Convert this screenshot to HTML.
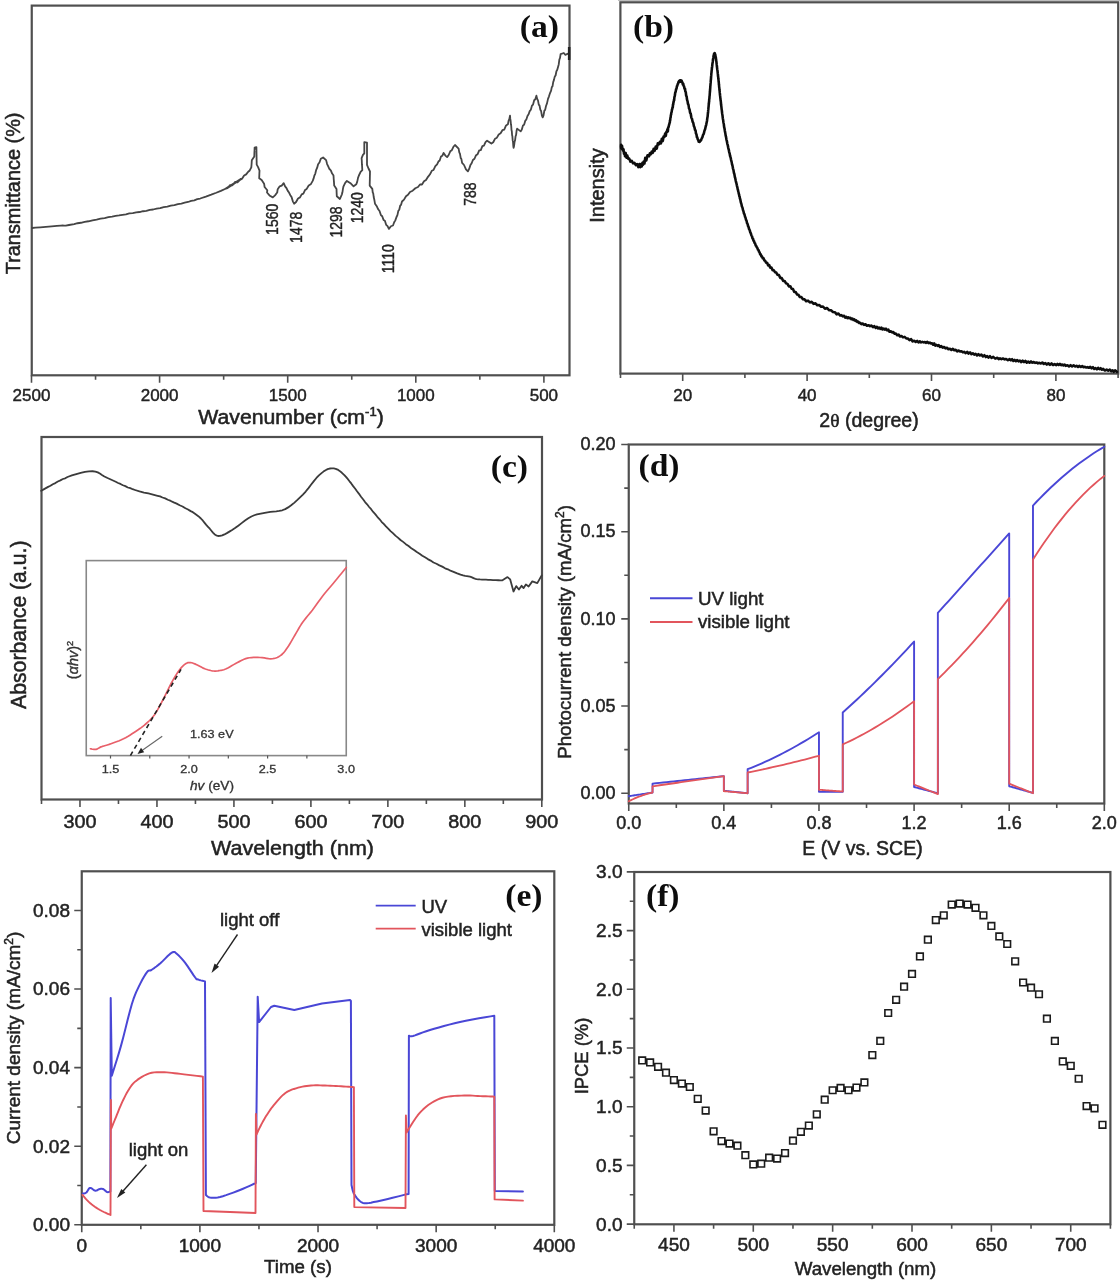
<!DOCTYPE html>
<html><head><meta charset="utf-8"><style>html,body{margin:0;padding:0;background:#fff;width:1120px;height:1280px;overflow:hidden}svg{display:block}</style></head><body>
<svg width="1120" height="1280" viewBox="0 0 1120 1280">
<rect width="1120" height="1280" fill="#ffffff"/>
<defs><filter id="soft" x="0" y="0" width="1120" height="1280" filterUnits="userSpaceOnUse"><feGaussianBlur stdDeviation="0.55"/></filter></defs>
<g filter="url(#soft)">
<path d="M618 0.5 H1120" stroke="#bdbdbd" stroke-width="1.2"/>
<rect x="31.75" y="5.6" width="537.75" height="369.7" fill="none" stroke="#505050" stroke-width="2.2"/>
<path d="M31.5 375.3 V382.8 M159.6 375.3 V382.8 M287.7 375.3 V382.8 M415.8 375.3 V382.8 M543.9 375.3 V382.8" stroke="#505050" stroke-width="1.6" fill="none"/>
<path d="M95.55 375.3 V379.8 M223.65 375.3 V379.8 M351.75 375.3 V379.8 M479.85 375.3 V379.8" stroke="#505050" stroke-width="1.6" fill="none"/>
<text x="31.5" y="401" font-family='"Liberation Sans", sans-serif' font-size="17" font-weight="normal" font-style="normal" fill="#222222" text-anchor="middle"  stroke="#222222" stroke-width="0.44">2500</text>
<text x="159.6" y="401" font-family='"Liberation Sans", sans-serif' font-size="17" font-weight="normal" font-style="normal" fill="#222222" text-anchor="middle"  stroke="#222222" stroke-width="0.44">2000</text>
<text x="287.7" y="401" font-family='"Liberation Sans", sans-serif' font-size="17" font-weight="normal" font-style="normal" fill="#222222" text-anchor="middle"  stroke="#222222" stroke-width="0.44">1500</text>
<text x="415.8" y="401" font-family='"Liberation Sans", sans-serif' font-size="17" font-weight="normal" font-style="normal" fill="#222222" text-anchor="middle"  stroke="#222222" stroke-width="0.44">1000</text>
<text x="543.9" y="401" font-family='"Liberation Sans", sans-serif' font-size="17" font-weight="normal" font-style="normal" fill="#222222" text-anchor="middle"  stroke="#222222" stroke-width="0.44">500</text>
<text x="0" y="0" font-family='"Liberation Sans", sans-serif' font-size="19.5" font-weight="normal" font-style="normal" fill="#222222" text-anchor="middle" transform="translate(291 424) scale(1.09 1)"  stroke="#222222" stroke-width="0.5">Wavenumber (cm<tspan dy="-8" font-size="12">-1</tspan><tspan dy="8">)</tspan></text>
<text x="0" y="0" font-family='"Liberation Sans", sans-serif' font-size="19.9" font-weight="normal" font-style="normal" fill="#222222" text-anchor="middle" transform="translate(20 193.4) rotate(-90)"  stroke="#222222" stroke-width="0.5">Transmittance (%)</text>
<text x="0" y="0" font-family='"Liberation Serif", serif' font-size="32" font-weight="bold" font-style="normal" fill="#111" text-anchor="end" transform="translate(559 37) scale(1.05 1)" >(a)</text>
<path d="M32 228 L35.37 227.72 L40.23 227.31 L45.89 226.84 L51.66 226.36 L56.86 225.92 L60.8 225.6 L62.95 225.48 L63.77 225.55 L64.01 225.67 L64.44 225.7 L65.85 225.52 L69 225 L74.19 224.05 L77.52 223.24 L80.86 222.76 L84.67 221.77 L88.49 221.26 L92.54 220.27 L96.59 219.67 L100.61 218.64 L104.63 218.11 L108.36 217.15 L112.1 216.7 L115.58 215.96 L119.07 215.46 L122.51 214.77 L125.95 214.29 L129.36 213.41 L132.77 213.16 L136.17 212.41 L139.57 212.01 L142.97 211.24 L146.37 210.8 L149.79 209.8 L153.2 209.5 L156.69 208.58 L160.17 208.11 L163.73 207.07 L167.29 206.66 L170.84 205.69 L174.4 205.16 L177.89 204.11 L181.37 203.6 L184.71 202.65 L188.05 201.98 L191.18 200.88 L194.3 200.3 L197.25 199.09 L200.19 198.52 L205.86 196.64 L211.24 194.71 L216.26 192.76 L220.87 190.84 L225 189 L228.67 187.13 L231.93 185.17 L234.77 183.24 L237.19 181.47 L239.17 179.98 L240.7 178.9 L225 189 L227.5 188.22 L230 185.15 L232.5 185.31 L235 181.97 L237.5 182.23 L240 179.9 L242.05 178.8 L244.1 175.48 L246.15 174.38 L248.2 171.7 L249.75 170.46 L251.3 167.3 L251.55 164.5 L251.8 160.2 L254.3 156.4 L254.4 152.57 L254.5 150.98 L254.6 147.7 L256.4 147.1 L256.45 149.39 L256.5 153.41 L256.55 155.17 L256.6 159.47 L256.65 161.37 L256.7 164.6 L258.1 167.15 L259.5 170.6 L259.35 173.95 L259.2 178.3 L261.65 180.06 L264.1 183.7 L264.6 187 L267.3 190.3 L267 192.5 L269.9 195.79 L272.8 197.4 L275 195.36 L277.2 192.5 L277.7 189.2 L279.7 186.34 L281.7 185.6 L283.7 183.2 L285.1 186.38 L286.5 188.1 L287.77 190.86 L289.03 192.53 L290.3 195.2 L291.57 197.12 L292.83 201.31 L294.1 203.7 L296.07 202.05 L298.03 198.51 L300 197.4 L301.68 194.36 L303.35 193.65 L305.02 190.05 L306.7 188.9 L308.7 185.56 L310.7 184.34 L312.7 180.9 L313.55 178.64 L314.4 175.5 L315.25 173.81 L316.1 170.2 L317.1 167.98 L318.1 164.2 L319.45 162.48 L320.8 158.8 L323.1 157.5 L326.1 160.1 L327.1 164.08 L328.1 166.2 L329.45 169.03 L330.8 170.3 L332.15 173.59 L333.5 175.5 L333.73 179.27 L333.97 181.89 L334.2 185.6 L336.5 188.9 L336.65 193.11 L336.8 196.3 L339.9 199 L341.9 194.3 L342.43 192.36 L342.97 188.66 L343.5 186.3 L345.2 182.83 L346.9 180.9 L350.9 183.6 L353.6 186.3 L356.3 184.3 L357.17 181.9 L358.03 177.92 L358.9 175.5 L360.6 171.98 L362.3 170.2 L362.12 166.54 L361.95 164.67 L361.78 160.49 L361.6 158.1 L362.95 154.96 L364.3 153.4 L364.3 150.24 L364.3 148.73 L364.3 144.61 L364.3 142.1 L367 142.7 L367 146.29 L367 147.33 L367 151.3 L367 152.9 L367 157.07 L367 158.57 L367 162.34 L367 164.8 L368.5 168.48 L370 171.5 L369.94 174.75 L369.88 176.17 L369.82 180.4 L369.76 181.95 L369.7 185.6 L372.3 188.9 L372.77 192.55 L373.23 193.34 L373.7 197 L374.35 199.81 L375 203.7 L376.6 205.95 L378.2 209.3 L379.54 211.08 L380.88 215.04 L382.21 216.27 L383.55 219.92 L384.89 220.69 L386.22 224.9 L387.56 226.12 L388.9 228.9 L390.95 226.24 L393 225.5 L394.17 222.3 L395.33 220.37 L396.5 217 L397.42 215.14 L398.33 210.89 L399.25 209.79 L400.17 205.72 L401.08 204.76 L402 201.5 L404 199.64 L406 196.23 L408 194.8 L410 192 L412.67 190.69 L415.33 188.26 L418 187 L420 184.47 L422 184.5 L424 181.34 L426 180 L428 176.82 L430 174.3 L431.77 170.81 L433.55 169.97 L435.33 166.22 L437.1 164.3 L438.4 161.55 L439.7 160.46 L441 156.58 L442.3 155.8 L443.6 152.9 L445.35 155.6 L447.1 157.1 L448.68 155.02 L450.26 151.32 L451.84 150.16 L453.42 146.77 L455 145 L458.6 148.6 L459.3 152.35 L460 153.93 L460.7 157.99 L461.4 159.08 L462.1 162.9 L464.03 164.99 L465.97 169.42 L467.9 171.4 L469.15 168.92 L470.4 165.1 L471.65 163.25 L472.9 160 L474.48 158.75 L476.06 155.2 L477.63 154.18 L479.21 150.42 L480.79 150.17 L482.37 146.15 L483.94 145.61 L485.52 142.2 L487.1 140.7 L491.4 143.6 L493.23 142.27 L495.07 138.68 L496.9 137.67 L498.73 134.44 L500.57 133.28 L502.4 130.17 L504.23 129.58 L506.07 125.47 L507.9 124.3 L508.6 120.69 L509.3 119.22 L510 115.7 L510.3 118.92 L510.6 120.7 L510.9 124.24 L511.2 125.59 L511.5 130.02 L511.8 131.25 L512.1 135.33 L512.4 136.32 L512.7 140.64 L513 141.77 L513.3 146.05 L513.6 147.9 L514.1 145.7 L514.6 141.59 L515.1 140.13 L515.6 136.23 L516.1 134.95 L516.6 130.57 L517.1 128.6 L520.7 131.4 L521.83 129.46 L522.96 125.55 L524.09 124.83 L525.21 120.92 L526.34 119.49 L527.47 116.06 L528.6 114.3 L529.71 111.17 L530.83 109.76 L531.94 105.7 L533.06 104.54 L534.17 100.26 L535.29 99.22 L536.4 95.7 L537.19 98.96 L537.98 100.37 L538.76 104.65 L539.55 105.67 L540.34 109.81 L541.12 111.08 L541.91 115.6 L542.7 117.4 L543.53 115.33 L544.35 110.72 L545.17 109.82 L546 106 L547 103.43 L548 98.86 L549 96.3 L550.05 93.03 L551.1 90.6 L551.8 87.09 L552.5 86.31 L553.2 82.09 L553.9 80.1 L554.74 76.64 L555.58 75.54 L556.42 71.25 L557.26 69.8 L558.1 66.7 L558.73 64.4 L559.35 59.69 L559.98 58.02 L560.6 54.1 L563.8 53 L565.2 54.8 L568.7 53.4" fill="none" stroke="#444" stroke-width="1.8" stroke-linejoin="round" stroke-linecap="round" />
<path d="M569.2 47 V60" stroke="#222" stroke-width="2.6"/>
<text transform="translate(278.1 234.9) rotate(-90) scale(1 1.18)" x="0" y="0" font-family='"Liberation Sans", sans-serif' font-size="14" fill="#222222" stroke="#222222" stroke-width="0.35">1560</text>
<text transform="translate(302.2 242.9) rotate(-90) scale(1 1.18)" x="0" y="0" font-family='"Liberation Sans", sans-serif' font-size="14" fill="#222222" stroke="#222222" stroke-width="0.35">1478</text>
<text transform="translate(342.3 237.5) rotate(-90) scale(1 1.18)" x="0" y="0" font-family='"Liberation Sans", sans-serif' font-size="14" fill="#222222" stroke="#222222" stroke-width="0.35">1298</text>
<text transform="translate(362.9 223.3) rotate(-90) scale(1 1.18)" x="0" y="0" font-family='"Liberation Sans", sans-serif' font-size="14" fill="#222222" stroke="#222222" stroke-width="0.35">1240</text>
<text transform="translate(394.1 273.3) rotate(-90) scale(1 1.18)" x="0" y="0" font-family='"Liberation Sans", sans-serif' font-size="14" fill="#222222" stroke="#222222" stroke-width="0.35">1110</text>
<text transform="translate(475.9 205.8) rotate(-90) scale(1 1.18)" x="0" y="0" font-family='"Liberation Sans", sans-serif' font-size="14" fill="#222222" stroke="#222222" stroke-width="0.35">788</text>
<rect x="620.4" y="2.3" width="497.8" height="371.3" fill="none" stroke="#505050" stroke-width="2.2"/>
<path d="M682.7 373.6 V381.1 M807.1 373.6 V381.1 M931.5 373.6 V381.1 M1055.9 373.6 V381.1" stroke="#505050" stroke-width="1.6" fill="none"/>
<path d="M620.5 373.6 V378.1 M744.9 373.6 V378.1 M869.3 373.6 V378.1 M993.7 373.6 V378.1 M1118.1 373.6 V378.1" stroke="#505050" stroke-width="1.6" fill="none"/>
<text x="682.7" y="401" font-family='"Liberation Sans", sans-serif' font-size="17" font-weight="normal" font-style="normal" fill="#222222" text-anchor="middle"  stroke="#222222" stroke-width="0.44">20</text>
<text x="807.1" y="401" font-family='"Liberation Sans", sans-serif' font-size="17" font-weight="normal" font-style="normal" fill="#222222" text-anchor="middle"  stroke="#222222" stroke-width="0.44">40</text>
<text x="931.5" y="401" font-family='"Liberation Sans", sans-serif' font-size="17" font-weight="normal" font-style="normal" fill="#222222" text-anchor="middle"  stroke="#222222" stroke-width="0.44">60</text>
<text x="1055.9" y="401" font-family='"Liberation Sans", sans-serif' font-size="17" font-weight="normal" font-style="normal" fill="#222222" text-anchor="middle"  stroke="#222222" stroke-width="0.44">80</text>
<text x="869" y="426.5" font-family='"Liberation Sans", sans-serif' font-size="19.5" font-weight="normal" font-style="normal" fill="#222222" text-anchor="middle"  stroke="#222222" stroke-width="0.5">2<tspan font-family='"Liberation Serif", serif'>&#952;</tspan> (degree)</text>
<text x="0" y="0" font-family='"Liberation Sans", sans-serif' font-size="20" font-weight="normal" font-style="normal" fill="#222222" text-anchor="middle" transform="translate(604 185.5) rotate(-90)"  stroke="#222222" stroke-width="0.5">Intensity</text>
<text x="0" y="0" font-family='"Liberation Serif", serif' font-size="32" font-weight="bold" font-style="normal" fill="#111" text-anchor="start" transform="translate(633 37) scale(1.05 1)" >(b)</text>
<path d="M621 146 L621.05 147.32 L621.09 144.73 L621.12 148.3 L621.17 145.06 L621.23 147.77 L621.32 145.13 L621.44 147.59 L621.61 145.78 L621.82 149.06 L622.1 146.16 L622.42 149.22 L622.75 148.38 L623.11 150.79 L623.51 149.23 L623.96 153.72 L624.46 152.55 L625.02 156.25 L625.66 152.95 L626.38 157.66 L627.2 155.48 L628.15 158.7 L629.25 158.62 L630.47 161.64 L631.77 160.92 L633.11 163.4 L634.47 162.83 L635.82 165.12 L637.11 164.1 L638.31 167.04 L639.4 164.08 L640.33 167.25 L641.12 164.01 L641.81 166.38 L642.45 162.76 L643.07 164.74 L643.72 161.54 L644.45 163.49 L645.29 157.79 L646.3 160.47 L647.5 155.31 L648.97 156.27 L649.84 153.45 L650.7 154.26 L651.66 151.67 L652.62 152.95 L653.64 148.86 L654.67 150.79 L655.72 146.53 L656.77 148.56 L657.82 143.26 L658.86 144.38 L659.87 141.87 L660.88 143.46 L661.81 138.88 L662.75 141.05 L663.58 136.51 L664.41 136.97 L665.11 133.65 L665.8 135.81 L666.36 131.9 L666.92 132.22 L667.38 129.41 L667.84 131.37 L668.22 127.21 L668.6 127.1 L668.92 125.2 L669.23 124.66 L669.5 122.91 L669.76 122.78 L669.99 120.38 L670.22 120.15 L670.43 117.74 L670.65 117.44 L670.85 115.1 L671.06 114.99 L671.28 112.79 L671.5 112.62 L672 109.46 L672.26 109.2 L672.52 107.24 L672.77 107.42 L673.02 104.39 L673.26 104.45 L673.49 101.88 L673.72 101.93 L673.95 99.83 L674.17 100.03 L674.39 97.24 L674.82 95.92 L675.25 92.46 L675.67 91.79 L676.08 89.18 L676.5 88.82 L676.91 86.15 L677.32 85.82 L677.71 84.04 L678.09 83.64 L678.47 81.91 L678.85 82.33 L679.23 80.75 L679.62 81.58 L680 80.31 L680.4 81.77 L680.8 80.29 L681.2 81.77 L681.6 80.61 L682.01 82.38 L682.41 82.38 L682.82 84.43 L683.23 83.59 L683.65 85.91 L684.07 86.34 L684.5 88.79 L684.93 88.52 L685.35 91.52 L685.77 92.05 L686.2 95.92 L686.63 96.43 L687.07 99.82 L687.53 101.21 L688 103.94 L688.49 104.92 L689 108.39 L689.55 109.36 L690.12 112.74 L690.73 113.75 L691.35 117.58 L691.99 118.76 L692.62 121.78 L693.25 122.84 L693.86 125.95 L694.45 127.25 L695 130.05 L695.51 130.23 L695.99 133.57 L696.45 134.2 L696.89 137.23 L697.32 137.47 L697.75 139.4 L698.2 139.87 L698.67 141.63 L699.16 141.25 L699.7 141.84 L700.29 140.77 L700.94 140.43 L701.63 138.64 L702.34 137.43 L703.06 134.87 L703.77 133.78 L704.46 130.78 L705.1 129.33 L705.69 126.45 L706.2 124.86 L706.64 122.55 L707.01 120.68 L707.34 117.97 L707.62 116.61 L707.88 113.46 L708.12 111.7 L708.24 110.01 L708.35 109.44 L708.47 107.48 L708.58 106.83 L708.71 104.78 L708.83 104.09 L708.97 102.26 L709.1 101.59 L709.24 99.25 L709.38 98.61 L709.53 96.2 L709.67 95.37 L709.81 92.75 L709.95 91.72 L710.09 89.31 L710.23 88.36 L710.32 86.24 L710.41 85.74 L710.51 83.85 L710.65 82.92 L710.78 80.36 L710.92 79.3 L711.06 76.97 L711.2 75.93 L711.34 73.63 L711.48 72.62 L711.62 70.65 L711.76 70.2 L711.9 67.95 L712.18 66.42 L712.46 63.48 L712.74 61.95 L713.02 59.21 L713.3 58.01 L713.58 55.75 L713.86 55.06 L714.14 53.62 L714.42 53.6 L714.7 53.06 L714.98 54.11 L715.26 54.53 L715.54 56.44 L715.82 57.45 L716.1 60.06 L716.38 61.43 L716.66 64.4 L716.94 66.47 L717.22 69.15 L717.5 70.83 L717.78 73.68 L717.92 74.57 L718.06 76.44 L718.2 76.92 L718.34 78.86 L718.48 79.48 L718.62 81.52 L718.76 82.31 L718.9 84.24 L719.04 85.18 L719.18 87.27 L719.32 87.77 L719.46 90.07 L719.6 90.73 L719.74 92.68 L719.88 93.44 L720.02 95.14 L720.16 95.94 L720.3 97.93 L720.44 98.26 L720.58 100.29 L720.84 101.78 L721.11 104.77 L721.37 106.65 L721.64 109.33 L721.91 111.04 L722.19 113.63 L722.48 115.36 L722.78 118.16 L723.1 119.7 L723.44 122.42 L723.78 123.94 L724.14 127.05 L724.5 128.44 L724.88 131 L725.27 132.91 L725.66 135.6 L726.07 137.16 L726.48 139.78 L726.9 141.17 L727.33 143.81 L727.78 145.24 L728.24 147.82 L728.72 149.59 L729.19 152.06 L729.68 153.7 L730.16 156.28 L730.65 157.69 L731.13 160.09 L731.6 161.88 L732.07 164.42 L732.53 165.86 L732.98 168.55 L733.44 169.91 L733.89 172.77 L734.36 173.95 L734.82 176.91 L735.3 178.48 L735.79 181.11 L736.3 182.83 L736.83 185.35 L737.37 187.29 L737.65 189.15 L737.93 189.79 L738.21 191.37 L738.5 192.13 L738.79 193.95 L739.07 194.47 L739.36 196.32 L739.65 196.77 L739.94 198.6 L740.23 199.1 L740.8 202.25 L741.36 203.82 L741.9 206.47 L742.43 207.53 L742.95 209.88 L743.45 211.18 L743.96 213.47 L744.46 214.25 L744.96 216.53 L745.46 217.5 L745.96 219.82 L746.48 220.5 L747 222.98 L747.53 223.82 L748.08 226.09 L748.62 227.17 L749.18 229.36 L749.73 230.15 L750.29 232.51 L750.84 233.3 L751.4 235.37 L751.95 236.16 L752.5 238.49 L753.04 238.81 L753.57 240.85 L754.1 241.3 L754.62 243.08 L755.14 243.49 L755.67 245.47 L756.21 245.85 L756.76 247.28 L757.32 247.94 L757.9 249.62 L758.48 249.98 L759.05 251.76 L759.61 252.41 L760.18 254.33 L760.77 254.39 L761.38 256.43 L762.03 256.42 L762.73 258.22 L763.48 258.14 L764.3 260.28 L765.18 260.84 L766.11 262.81 L767.09 262.69 L768.12 265.32 L769.18 265.02 L770.28 267.74 L771.42 267.54 L772.59 270.15 L773.78 270.29 L775 272.14 L776.26 272.55 L777.57 274.85 L778.93 275.14 L780.32 277.9 L781.74 278.12 L783.18 280.9 L784.62 280.95 L786.06 283.35 L787.49 283.89 L788.9 286.49 L790.28 286.23 L791.63 288.76 L792.96 289.02 L794.29 292.07 L795.63 291.99 L796.99 294.47 L798.39 294.83 L799.83 296.95 L801.33 296.99 L802.9 299.22 L804.55 299.36 L806.26 301.3 L808.03 300.65 L809.84 302.39 L811.69 301.84 L813.57 303.84 L815.46 303.38 L817.35 305.27 L819.23 305.09 L821.1 306.67 L823 306.48 L824.96 308.74 L826.95 307.99 L828.97 310.19 L830.98 310.27 L832.95 312.03 L834.86 312.18 L836.69 314.3 L838.41 313.49 L840 315.52 L841.45 315.16 L842.78 316.35 L844.02 315.8 L845.17 317.6 L846.26 316.77 L847.3 318.05 L848.32 317.39 L849.33 318.19 L850.35 317.86 L851.4 319.27 L852.44 318.64 L853.42 319.97 L854.37 319.42 L855.29 320.83 L856.22 320.4 L857.16 321.91 L858.13 321.62 L859.15 323.03 L860.23 322.83 L861.4 324.16 L862.67 323.52 L864.03 324.86 L865.47 324.3 L866.95 325.7 L868.46 325.19 L869.98 326.14 L871.49 325.51 L872.96 327.1 L874.37 326.22 L875.7 327.89 L876.95 326.78 L878.14 328.47 L879.29 327.58 L880.4 328.88 L881.49 327.65 L882.57 329.5 L883.66 328.54 L884.77 329.66 L885.91 328.75 L887.1 330.34 L888.32 329.56 L889.54 331.78 L890.77 331.23 L892.02 332.43 L893.28 331.97 L894.57 333.65 L895.88 333.65 L897.22 335.29 L898.59 334.63 L900 336.45 L901.47 336.02 L903.01 337.38 L904.59 336.88 L906.21 338.39 L907.85 338.51 L909.49 340.12 L911.11 339.18 L912.69 341.43 L914.23 340.75 L915.7 341.94 L917.11 340.96 L918.48 342.43 L919.82 341.34 L921.13 342.4 L922.42 341.89 L923.68 342.41 L924.93 341.98 L926.16 342.84 L927.38 341.84 L928.6 343.19 L929.79 342.59 L930.93 343.51 L932.04 343.23 L933.13 344.73 L934.21 343.46 L935.3 345.62 L936.41 344.94 L937.56 345.84 L938.75 345.15 L940 346.91 L941.31 346.04 L942.67 347.56 L944.08 347 L945.51 348.44 L946.97 347.77 L948.44 349.23 L949.92 348.79 L951.39 350.01 L952.86 348.88 L954.3 350.31 L955.73 349.81 L957.16 351.34 L958.59 350.45 L960.02 351.54 L961.45 351.2 L962.88 352.33 L964.31 351.87 L965.74 353.16 L967.17 351.86 L968.6 353.59 L970.02 352.38 L971.42 354.1 L972.8 353.27 L974.19 354.63 L975.58 353.76 L976.98 355.47 L978.4 354.1 L979.86 355.5 L981.36 354.58 L982.9 356.42 L984.4 355.24 L985.81 357.02 L987.17 356.05 L988.54 357.61 L989.97 356.24 L991.52 358.01 L993.25 356.89 L995.2 358.66 L997.43 357.78 L998.72 359.13 L1000 358.37 L1001.46 359.21 L1002.92 358.46 L1004.53 359.36 L1006.14 358.94 L1007.88 360.23 L1009.62 359.17 L1010.86 360.29 L1012.1 359.23 L1013.33 360.89 L1014.63 359.96 L1015.92 361.19 L1017.22 360.09 L1018.56 361.4 L1019.91 360.52 L1021.25 362.03 L1022.63 360.64 L1024.01 362.12 L1025.38 360.86 L1026.78 362.62 L1028.18 361.69 L1029.58 362.66 L1030.99 361.47 L1032.39 362.69 L1033.8 362.01 L1035.2 362.83 L1036.6 362.44 L1038 363.35 L1039.44 362.79 L1040.87 363.53 L1042.31 362.48 L1043.81 364.02 L1045.32 363.03 L1046.83 364.59 L1048.39 363.25 L1049.95 364.87 L1051.51 363.47 L1053.1 365 L1054.69 364.13 L1056.28 365.11 L1057.48 363.87 L1058.68 364.91 L1059.89 363.94 L1061.09 365.18 L1062.28 364.47 L1063.48 365.38 L1064.68 364.64 L1065.87 365.9 L1067.44 365.19 L1069.01 366.4 L1070.58 365.19 L1072.1 366.37 L1073.62 365.33 L1075.14 366.52 L1076.59 365.82 L1078.05 367 L1079.5 365.9 L1080.87 367 L1082.23 366.06 L1083.6 367.29 L1084.93 366.86 L1086.26 367.56 L1087.58 367.14 L1088.92 367.81 L1090.26 366.95 L1091.6 368.3 L1092.92 367.19 L1094.24 368.9 L1095.57 368.14 L1096.86 369.42 L1098.15 367.84 L1099.44 369.11 L1100.68 368.22 L1101.91 369.72 L1103.15 368.88 L1104.89 370.53 L1106.63 369.54 L1108.22 370.69 L1109.82 369.51 L1111.24 371.27 L1112.65 370.26 L1113.86 371.84 L1115.07 370.36 L1117 372.01" fill="none" stroke="#111111" stroke-width="2.6" stroke-linejoin="round" stroke-linecap="round" />
<rect x="41.5" y="437" width="500.5" height="362.5" fill="none" stroke="#505050" stroke-width="2.2"/>
<path d="M79.98 799.5 V807 M156.96 799.5 V807 M233.93 799.5 V807 M310.9 799.5 V807 M387.87 799.5 V807 M464.84 799.5 V807 M541.81 799.5 V807" stroke="#505050" stroke-width="1.6" fill="none"/>
<path d="M41.5 799.5 V804 M118.47 799.5 V804 M195.44 799.5 V804 M272.41 799.5 V804 M349.38 799.5 V804 M426.35 799.5 V804 M503.32 799.5 V804 M118.47 799.5 V804 M195.44 799.5 V804 M272.41 799.5 V804 M349.38 799.5 V804 M426.35 799.5 V804 M503.32 799.5 V804" stroke="#505050" stroke-width="1.6" fill="none"/>
<text x="0" y="0" font-family='"Liberation Sans", sans-serif' font-size="18.5" font-weight="normal" font-style="normal" fill="#222222" text-anchor="middle" transform="translate(79.98 828) scale(1.07 1)"  stroke="#222222" stroke-width="0.48">300</text>
<text x="0" y="0" font-family='"Liberation Sans", sans-serif' font-size="18.5" font-weight="normal" font-style="normal" fill="#222222" text-anchor="middle" transform="translate(156.96 828) scale(1.07 1)"  stroke="#222222" stroke-width="0.48">400</text>
<text x="0" y="0" font-family='"Liberation Sans", sans-serif' font-size="18.5" font-weight="normal" font-style="normal" fill="#222222" text-anchor="middle" transform="translate(233.93 828) scale(1.07 1)"  stroke="#222222" stroke-width="0.48">500</text>
<text x="0" y="0" font-family='"Liberation Sans", sans-serif' font-size="18.5" font-weight="normal" font-style="normal" fill="#222222" text-anchor="middle" transform="translate(310.9 828) scale(1.07 1)"  stroke="#222222" stroke-width="0.48">600</text>
<text x="0" y="0" font-family='"Liberation Sans", sans-serif' font-size="18.5" font-weight="normal" font-style="normal" fill="#222222" text-anchor="middle" transform="translate(387.87 828) scale(1.07 1)"  stroke="#222222" stroke-width="0.48">700</text>
<text x="0" y="0" font-family='"Liberation Sans", sans-serif' font-size="18.5" font-weight="normal" font-style="normal" fill="#222222" text-anchor="middle" transform="translate(464.84 828) scale(1.07 1)"  stroke="#222222" stroke-width="0.48">800</text>
<text x="0" y="0" font-family='"Liberation Sans", sans-serif' font-size="18.5" font-weight="normal" font-style="normal" fill="#222222" text-anchor="middle" transform="translate(541.81 828) scale(1.07 1)"  stroke="#222222" stroke-width="0.48">900</text>
<text x="0" y="0" font-family='"Liberation Sans", sans-serif' font-size="20.5" font-weight="normal" font-style="normal" fill="#222222" text-anchor="middle" transform="translate(292.5 854.5) scale(1.05 1)"  stroke="#222222" stroke-width="0.5">Wavelength (nm)</text>
<text x="0" y="0" font-family='"Liberation Sans", sans-serif' font-size="21.2" font-weight="normal" font-style="normal" fill="#222222" text-anchor="middle" transform="translate(26 624.7) rotate(-90)"  stroke="#222222" stroke-width="0.5">Absorbance (a.u.)</text>
<text x="0" y="0" font-family='"Liberation Serif", serif' font-size="32" font-weight="bold" font-style="normal" fill="#111" text-anchor="end" transform="translate(528 477) scale(1.05 1)" >(c)</text>
<path d="M41.25 490.75 L44.12 489.16 L48.1 486.89 L50.46 485.78 L52.81 484.23 L55.34 483.06 L57.87 481.5 L60.38 480.38 L62.89 478.99 L65.2 478.31 L67.5 477 L71.85 475.43 L76.3 474.03 L80.7 472.84 L84.95 471.94 L88.93 471.39 L92.5 471.25 L95.43 471.59 L97.78 472.38 L99.84 473.52 L101.94 474.9 L104.39 476.43 L107.5 478 L111.36 479.75 L115.74 481.78 L118.1 482.97 L120.47 483.95 L122.92 485.27 L125.37 486.14 L127.82 487.49 L130.27 488.2 L132.64 489.22 L135 490 L139.53 491.41 L143.98 492.51 L148.44 493.48 L152.96 494.52 L157.63 495.8 L160.06 496.41 L162.5 497.5 L165.18 498.36 L167.85 499.74 L170.77 500.95 L173.69 502.39 L176.67 503.63 L179.66 505.28 L182.54 506.48 L185.43 508.25 L188.04 509.47 L190.65 511.13 L192.83 512.16 L195 513.75 L198.33 516.15 L200.89 518.48 L202.91 520.72 L204.61 522.85 L206.23 524.88 L208 526.8 L209.79 528.73 L211.4 530.71 L212.93 532.59 L214.47 534.2 L216.13 535.39 L218 536 L220.05 535.97 L222.2 535.4 L224.47 534.42 L226.86 533.12 L229.4 531.61 L232.1 530 L235.05 528.08 L238.27 525.71 L241.62 523.14 L245.01 520.59 L248.31 518.3 L251.4 516.5 L254.25 515.25 L256.94 514.37 L259.55 513.76 L262.13 513.28 L264.76 512.83 L267.5 512.3 L270.36 511.84 L273.28 511.58 L276.25 511.34 L279.24 510.97 L282.23 510.28 L285.2 509.1 L288.17 507.39 L291.16 505.28 L294.16 502.85 L297.13 500.2 L300.05 497.42 L302.9 494.6 L305.7 491.53 L308.47 488.1 L311.2 484.54 L313.86 481.08 L316.43 477.95 L318.9 475.4 L321.23 473.35 L323.43 471.61 L325.55 470.21 L327.62 469.17 L329.69 468.52 L331.8 468.3 L333.83 468.41 L335.71 468.81 L337.6 469.6 L339.62 470.89 L341.91 472.79 L344.6 475.4 L347.75 478.96 L349.5 481.33 L351.26 483.42 L353.15 486.12 L355.04 488.49 L357.02 491.31 L359 493.86 L361.02 496.77 L363.05 499.23 L365.07 502.1 L367.1 504.3 L369.12 506.99 L371.14 509.17 L373.18 511.94 L375.22 514.11 L377.31 516.78 L379.4 519.05 L381.56 521.77 L383.71 523.92 L385.95 526.42 L388.2 528.66 L390.55 531.11 L392.9 533.2 L395.39 535.66 L397.88 537.59 L400.51 540.02 L403.13 541.89 L405.84 544.18 L408.55 546.05 L411.3 548.17 L414.06 550.04 L416.82 552.09 L419.57 553.8 L422.29 555.71 L425 557.3 L427.79 559.12 L430.59 560.59 L433.51 562.47 L436.44 563.73 L439.38 565.35 L442.31 566.65 L445.1 568.29 L447.9 569.28 L450.43 570.73 L452.95 571.55 L457.2 573.4 L460.53 574.7 L463.13 575.48 L465.19 575.91 L466.9 576.14 L468.44 576.35 L470 576.7 L471.42 577.17 L472.51 577.63 L473.44 578.06 L474.34 578.46 L475.38 578.81 L476.7 579.1 L478.3 579.32 L480.06 579.46 L481.94 579.56 L483.93 579.64 L486 579.71 L488.1 579.8 L490.44 579.91 L493.09 580.03 L495.81 580.14 L498.37 580.25 L500.55 580.34 L502.1 580.4 L502.1 580.4 L507.5 577.1 L510.2 579.4 L513.5 591.5 L516.2 586.1 L518.9 589.5 L521.6 585.8 L523.6 588.1 L525.9 584.4 L528.6 586.5 L532.3 581.4 L537.3 583.1 L541.7 575.4" fill="none" stroke="#3a3a3a" stroke-width="1.8" stroke-linejoin="round" stroke-linecap="round" />
<rect x="86.25" y="560.6" width="260" height="195" fill="none" stroke="#888" stroke-width="1.6"/>
<path d="M110.5 755.6 V758.6 M149.78 755.6 V758.6 M189.05 755.6 V758.6 M228.32 755.6 V758.6 M267.6 755.6 V758.6 M306.88 755.6 V758.6" stroke="#555" stroke-width="1.2" fill="none"/>
<text x="0" y="0" font-family='"Liberation Sans", sans-serif' font-size="11.5" font-weight="normal" font-style="normal" fill="#333" text-anchor="middle" transform="translate(110.5 772.5) scale(1.1 1)"  stroke="#333" stroke-width="0.3">1.5</text>
<text x="0" y="0" font-family='"Liberation Sans", sans-serif' font-size="11.5" font-weight="normal" font-style="normal" fill="#333" text-anchor="middle" transform="translate(189.05 772.5) scale(1.1 1)"  stroke="#333" stroke-width="0.3">2.0</text>
<text x="0" y="0" font-family='"Liberation Sans", sans-serif' font-size="11.5" font-weight="normal" font-style="normal" fill="#333" text-anchor="middle" transform="translate(267.6 772.5) scale(1.1 1)"  stroke="#333" stroke-width="0.3">2.5</text>
<text x="0" y="0" font-family='"Liberation Sans", sans-serif' font-size="11.5" font-weight="normal" font-style="normal" fill="#333" text-anchor="middle" transform="translate(346.15 772.5) scale(1.1 1)"  stroke="#333" stroke-width="0.3">3.0</text>
<text x="0" y="0" font-family='"Liberation Sans", sans-serif' font-size="13" font-weight="normal" font-style="normal" fill="#333" text-anchor="middle" transform="translate(212 789.5) scale(1.05 1)"  stroke="#333" stroke-width="0.34"><tspan font-style="italic">hv</tspan> (eV)</text>
<text x="0" y="0" font-family='"Liberation Sans", sans-serif' font-size="14.5" font-weight="normal" font-style="normal" fill="#333" text-anchor="middle" transform="translate(77.5 660) rotate(-90)"  stroke="#333" stroke-width="0.38">(<tspan font-style="italic">&#945;hv</tspan>)<tspan dy="-5" font-size="9">2</tspan></text>
<text x="0" y="0" font-family='"Liberation Sans", sans-serif' font-size="11.5" font-weight="normal" font-style="normal" fill="#333" text-anchor="start" transform="translate(190 738.3) scale(1.1 1)"  stroke="#333" stroke-width="0.3">1.63 eV</text>
<path d="M90.4 748.75 L91.02 748.86 L91.87 749.04 L92.89 749.23 L93.97 749.39 L95.04 749.47 L96 749.4 L96.81 749.17 L97.53 748.82 L98.22 748.39 L98.99 747.9 L99.88 747.39 L101 746.9 L102.35 746.43 L103.87 745.97 L105.53 745.48 L107.3 744.96 L109.13 744.39 L111 743.75 L112.94 743.05 L114.98 742.31 L117.09 741.52 L119.24 740.67 L121.39 739.75 L123.5 738.75 L125.61 737.64 L127.76 736.44 L129.91 735.16 L132.02 733.84 L134.06 732.53 L136 731.25 L137.83 730.02 L139.56 728.82 L141.23 727.62 L142.85 726.39 L144.43 725.11 L146 723.75 L147.53 722.37 L149.01 721 L150.45 719.58 L151.88 718.05 L153.31 716.34 L154.75 714.4 L156.22 712.15 L157.71 709.63 L159.2 706.93 L160.68 704.15 L162.11 701.39 L163.5 698.75 L164.82 696.18 L166.09 693.61 L167.33 691.05 L168.55 688.54 L169.76 686.1 L171 683.75 L172.26 681.46 L173.55 679.19 L174.83 676.99 L176.09 674.91 L177.32 672.98 L178.5 671.25 L179.63 669.72 L180.72 668.36 L181.78 667.16 L182.81 666.11 L183.8 665.19 L184.75 664.4 L185.64 663.75 L186.46 663.26 L187.25 662.9 L188.04 662.67 L188.86 662.54 L189.75 662.5 L190.69 662.57 L191.65 662.76 L192.64 663.06 L193.69 663.44 L194.8 663.9 L196 664.4 L197.31 665.01 L198.73 665.75 L200.22 666.55 L201.74 667.36 L203.26 668.12 L204.75 668.75 L206.23 669.28 L207.75 669.76 L209.27 670.18 L210.75 670.53 L212.17 670.81 L213.5 671 L214.72 671.09 L215.84 671.08 L216.91 671 L217.94 670.86 L218.96 670.69 L220 670.5 L221 670.33 L221.92 670.18 L222.83 669.98 L223.81 669.71 L224.92 669.32 L226.25 668.75 L227.85 667.95 L229.68 666.93 L231.64 665.79 L233.66 664.61 L235.64 663.49 L237.5 662.5 L239.21 661.62 L240.83 660.76 L242.42 659.95 L244.03 659.22 L245.7 658.59 L247.5 658.1 L249.44 657.76 L251.48 657.55 L253.59 657.45 L255.74 657.42 L257.89 657.45 L260 657.5 L262.13 657.66 L264.31 657.96 L266.48 658.32 L268.61 658.64 L270.63 658.81 L272.5 658.75 L274.2 658.46 L275.79 658.01 L277.27 657.42 L278.66 656.71 L279.98 655.9 L281.25 655 L282.42 654.02 L283.47 652.96 L284.45 651.8 L285.42 650.51 L286.41 649.08 L287.5 647.5 L288.68 645.71 L289.91 643.7 L291.17 641.56 L292.45 639.35 L293.74 637.14 L295 635 L296.22 632.92 L297.41 630.83 L298.59 628.75 L299.81 626.67 L301.11 624.58 L302.5 622.5 L304.02 620.43 L305.65 618.38 L307.34 616.33 L309.07 614.26 L310.8 612.16 L312.5 610 L314.14 607.8 L315.74 605.56 L317.34 603.28 L318.98 600.97 L320.69 598.63 L322.5 596.25 L324.45 593.81 L326.53 591.3 L328.67 588.75 L330.83 586.2 L332.96 583.69 L335 581.25 L337.08 578.73 L339.26 576.06 L341.41 573.44 L343.38 571.02 L345.04 568.98 L346.25 567.5" fill="none" stroke="#e8606a" stroke-width="1.7" stroke-linejoin="round" stroke-linecap="round" />
<path d="M130.4 755.6 L181 669.4" stroke="#222" stroke-width="1.6" stroke-dasharray="4.5 3.5" fill="none"/>
<path d="M162.25 736.25 L142 750.5" stroke="#666" stroke-width="1.1" fill="none"/>
<path d="M137.5 754 L141 747.8 L144.2 752.3 Z" fill="#222"/>
<rect x="628.75" y="444.5" width="475.55" height="359" fill="none" stroke="#505050" stroke-width="2.2"/>
<path d="M628.75 803.5 V811 M723.86 803.5 V811 M818.97 803.5 V811 M914.09 803.5 V811 M1009.2 803.5 V811 M1104.31 803.5 V811" stroke="#505050" stroke-width="1.6" fill="none"/>
<path d="M676.31 803.5 V808 M771.42 803.5 V808 M866.53 803.5 V808 M961.64 803.5 V808 M1056.75 803.5 V808" stroke="#505050" stroke-width="1.6" fill="none"/>
<path d="M628.75 793.25 H621.25 M628.75 706.06 H621.25 M628.75 618.88 H621.25 M628.75 531.69 H621.25 M628.75 444.5 H621.25" stroke="#505050" stroke-width="1.6" fill="none"/>
<path d="M628.75 749.66 H624.25 M628.75 662.47 H624.25 M628.75 575.28 H624.25 M628.75 488.09 H624.25" stroke="#505050" stroke-width="1.6" fill="none"/>
<text x="628.75" y="829" font-family='"Liberation Sans", sans-serif' font-size="18" font-weight="normal" font-style="normal" fill="#222222" text-anchor="middle"  stroke="#222222" stroke-width="0.47">0.0</text>
<text x="723.86" y="829" font-family='"Liberation Sans", sans-serif' font-size="18" font-weight="normal" font-style="normal" fill="#222222" text-anchor="middle"  stroke="#222222" stroke-width="0.47">0.4</text>
<text x="818.97" y="829" font-family='"Liberation Sans", sans-serif' font-size="18" font-weight="normal" font-style="normal" fill="#222222" text-anchor="middle"  stroke="#222222" stroke-width="0.47">0.8</text>
<text x="914.09" y="829" font-family='"Liberation Sans", sans-serif' font-size="18" font-weight="normal" font-style="normal" fill="#222222" text-anchor="middle"  stroke="#222222" stroke-width="0.47">1.2</text>
<text x="1009.2" y="829" font-family='"Liberation Sans", sans-serif' font-size="18" font-weight="normal" font-style="normal" fill="#222222" text-anchor="middle"  stroke="#222222" stroke-width="0.47">1.6</text>
<text x="1104.31" y="829" font-family='"Liberation Sans", sans-serif' font-size="18" font-weight="normal" font-style="normal" fill="#222222" text-anchor="middle"  stroke="#222222" stroke-width="0.47">2.0</text>
<text x="615.5" y="799.05" font-family='"Liberation Sans", sans-serif' font-size="18" font-weight="normal" font-style="normal" fill="#222222" text-anchor="end"  stroke="#222222" stroke-width="0.47">0.00</text>
<text x="615.5" y="711.86" font-family='"Liberation Sans", sans-serif' font-size="18" font-weight="normal" font-style="normal" fill="#222222" text-anchor="end"  stroke="#222222" stroke-width="0.47">0.05</text>
<text x="615.5" y="624.67" font-family='"Liberation Sans", sans-serif' font-size="18" font-weight="normal" font-style="normal" fill="#222222" text-anchor="end"  stroke="#222222" stroke-width="0.47">0.10</text>
<text x="615.5" y="537.49" font-family='"Liberation Sans", sans-serif' font-size="18" font-weight="normal" font-style="normal" fill="#222222" text-anchor="end"  stroke="#222222" stroke-width="0.47">0.15</text>
<text x="615.5" y="450.3" font-family='"Liberation Sans", sans-serif' font-size="18" font-weight="normal" font-style="normal" fill="#222222" text-anchor="end"  stroke="#222222" stroke-width="0.47">0.20</text>
<text x="862.5" y="855" font-family='"Liberation Sans", sans-serif' font-size="19.5" font-weight="normal" font-style="normal" fill="#222222" text-anchor="middle"  stroke="#222222" stroke-width="0.5">E (V vs. SCE)</text>
<text x="0" y="0" font-family='"Liberation Sans", sans-serif' font-size="18.7" font-weight="normal" font-style="normal" fill="#222222" text-anchor="middle" transform="translate(571 631.9) rotate(-90)"  stroke="#222222" stroke-width="0.49">Photocurrent density (mA/cm<tspan dy="-7" font-size="12">2</tspan><tspan dy="7">)</tspan></text>
<text x="0" y="0" font-family='"Liberation Serif", serif' font-size="32" font-weight="bold" font-style="normal" fill="#111" text-anchor="start" transform="translate(638.5 476) scale(1.05 1)" >(d)</text>
<path d="M650 598.25 H692.5" stroke="#4a46d6" stroke-width="1.8"/>
<path d="M650 622 H692.5" stroke="#e2545c" stroke-width="1.8"/>
<text x="0" y="0" font-family='"Liberation Sans", sans-serif' font-size="18" font-weight="normal" font-style="normal" fill="#222222" text-anchor="start" transform="translate(698 604.5) scale(1.04 1)"  stroke="#222222" stroke-width="0.47">UV light</text>
<text x="0" y="0" font-family='"Liberation Sans", sans-serif' font-size="18" font-weight="normal" font-style="normal" fill="#222222" text-anchor="start" transform="translate(698 628) scale(1.04 1)"  stroke="#222222" stroke-width="0.47">visible light</text>
<path d="M628.75 796.21 L629.94 796.03 L631.13 795.85 L632.32 795.67 L633.51 795.48 L634.69 795.3 L635.88 795.12 L637.07 794.93 L638.26 794.75 L639.45 794.57 L640.64 794.38 L641.83 794.2 L643.02 794.02 L644.21 793.83 L645.39 793.65 L646.58 793.47 L647.77 793.28 L648.96 793.1 L650.15 792.92 L651.34 792.74 L652.53 792.55 L652.53 783.66 L656.09 783.28 L659.66 782.91 L663.23 782.53 L666.79 782.16 L670.36 781.78 L673.93 781.41 L677.49 781.04 L681.06 780.66 L684.63 780.29 L688.2 779.91 L691.76 779.54 L695.33 779.16 L698.9 778.79 L702.46 778.41 L706.03 778.04 L709.6 777.66 L713.16 777.29 L716.73 776.91 L720.3 776.54 L723.86 776.16 L723.86 790.81 L725.05 790.93 L726.24 791.05 L727.43 791.17 L728.62 791.3 L729.81 791.42 L731 791.54 L732.18 791.66 L733.37 791.79 L734.56 791.91 L735.75 792.03 L736.94 792.15 L738.13 792.27 L739.32 792.4 L740.51 792.52 L741.7 792.64 L742.88 792.76 L744.07 792.88 L745.26 793.01 L746.45 793.13 L747.64 793.25 L747.64 769.19 L751.21 767.78 L754.77 766.32 L758.34 764.82 L761.91 763.27 L765.47 761.68 L769.04 760.04 L772.61 758.35 L776.17 756.62 L779.74 754.84 L783.31 753.01 L786.87 751.14 L790.44 749.22 L794.01 747.26 L797.57 745.25 L801.14 743.19 L804.71 741.09 L808.27 738.94 L811.84 736.75 L815.41 734.51 L818.97 732.22 L818.97 791.86 L820.16 791.86 L821.35 791.86 L822.54 791.86 L823.73 791.86 L824.92 791.86 L826.11 791.86 L827.3 791.86 L828.49 791.86 L829.67 791.86 L830.86 791.86 L832.05 791.86 L833.24 791.86 L834.43 791.86 L835.62 791.86 L836.81 791.86 L838 791.86 L839.19 791.86 L840.37 791.86 L841.56 791.86 L842.75 791.86 L842.75 712.51 L846.32 709.3 L849.89 706.06 L853.45 702.77 L857.02 699.46 L860.59 696.1 L864.15 692.71 L867.72 689.29 L871.29 685.83 L874.85 682.33 L878.42 678.8 L881.99 675.24 L885.55 671.64 L889.12 668 L892.69 664.33 L896.25 660.62 L899.82 656.87 L903.39 653.09 L906.95 649.28 L910.52 645.43 L914.09 641.54 L914.09 786.97 L915.27 787.29 L916.46 787.6 L917.65 787.91 L918.84 788.23 L920.03 788.54 L921.22 788.86 L922.41 789.17 L923.6 789.48 L924.79 789.8 L925.98 790.11 L927.16 790.43 L928.35 790.74 L929.54 791.05 L930.73 791.37 L931.92 791.68 L933.11 791.99 L934.3 792.31 L935.49 792.62 L936.68 792.94 L937.86 793.25 L937.86 612.95 L941.43 608.97 L945 604.99 L948.56 601.02 L952.13 597.04 L955.7 593.07 L959.26 589.09 L962.83 585.12 L966.4 581.14 L969.96 577.16 L973.53 573.19 L977.1 569.21 L980.66 565.24 L984.23 561.26 L987.8 557.29 L991.36 553.31 L994.93 549.33 L998.5 545.36 L1002.06 541.38 L1005.63 537.41 L1009.2 533.43 L1009.2 786.27 L1010.39 786.61 L1011.58 786.94 L1012.76 787.27 L1013.95 787.6 L1015.14 787.93 L1016.33 788.26 L1017.52 788.59 L1018.71 788.93 L1019.9 789.26 L1021.09 789.59 L1022.28 789.92 L1023.46 790.25 L1024.65 790.58 L1025.84 790.91 L1027.03 791.24 L1028.22 791.58 L1029.41 791.91 L1030.6 792.24 L1031.79 792.57 L1032.98 792.9 L1032.98 505.53 L1036.54 501.76 L1040.11 498.07 L1043.68 494.47 L1047.24 490.96 L1050.81 487.53 L1054.38 484.2 L1057.94 480.95 L1061.51 477.79 L1065.08 474.72 L1068.64 471.74 L1072.21 468.85 L1075.78 466.04 L1079.34 463.32 L1082.91 460.69 L1086.48 458.15 L1090.04 455.7 L1093.61 453.33 L1097.18 451.06 L1100.74 448.87 L1104.31 446.77" fill="none" stroke="#4a46d6" stroke-width="1.9" stroke-linejoin="round" stroke-linecap="round" />
<path d="M628.75 801.27 L629.94 800.67 L631.13 800.09 L632.32 799.52 L633.51 798.97 L634.69 798.44 L635.88 797.92 L637.07 797.43 L638.26 796.95 L639.45 796.48 L640.64 796.04 L641.83 795.61 L643.02 795.2 L644.21 794.81 L645.39 794.44 L646.58 794.08 L647.77 793.74 L648.96 793.42 L650.15 793.11 L651.34 792.82 L652.53 792.55 L652.53 786.27 L656.09 785.77 L659.66 785.26 L663.23 784.76 L666.79 784.25 L670.36 783.75 L673.93 783.24 L677.49 782.74 L681.06 782.23 L684.63 781.72 L688.2 781.22 L691.76 780.71 L695.33 780.21 L698.9 779.7 L702.46 779.2 L706.03 778.69 L709.6 778.18 L713.16 777.68 L716.73 777.17 L720.3 776.67 L723.86 776.16 L723.86 791.16 L725.05 791.26 L726.24 791.37 L727.43 791.47 L728.62 791.58 L729.81 791.68 L731 791.79 L732.18 791.89 L733.37 791.99 L734.56 792.1 L735.75 792.2 L736.94 792.31 L738.13 792.41 L739.32 792.52 L740.51 792.62 L741.7 792.73 L742.88 792.83 L744.07 792.94 L745.26 793.04 L746.45 793.15 L747.64 793.25 L747.64 772.5 L751.21 771.78 L754.77 771.05 L758.34 770.31 L761.91 769.55 L765.47 768.79 L769.04 768 L772.61 767.21 L776.17 766.41 L779.74 765.59 L783.31 764.76 L786.87 763.91 L790.44 763.06 L794.01 762.19 L797.57 761.31 L801.14 760.42 L804.71 759.51 L808.27 758.59 L811.84 757.66 L815.41 756.72 L818.97 755.76 L818.97 789.76 L820.16 789.85 L821.35 789.94 L822.54 790.02 L823.73 790.11 L824.92 790.2 L826.11 790.29 L827.3 790.37 L828.49 790.46 L829.67 790.55 L830.86 790.63 L832.05 790.72 L833.24 790.81 L834.43 790.9 L835.62 790.98 L836.81 791.07 L838 791.16 L839.19 791.24 L840.37 791.33 L841.56 791.42 L842.75 791.51 L842.75 744.42 L846.32 742.78 L849.89 741.07 L853.45 739.32 L857.02 737.51 L860.59 735.64 L864.15 733.72 L867.72 731.75 L871.29 729.72 L874.85 727.64 L878.42 725.51 L881.99 723.32 L885.55 721.07 L889.12 718.78 L892.69 716.42 L896.25 714.02 L899.82 711.56 L903.39 709.05 L906.95 706.48 L910.52 703.86 L914.09 701.18 L914.09 784.53 L915.27 785.01 L916.46 785.49 L917.65 785.97 L918.84 786.45 L920.03 786.93 L921.22 787.41 L922.41 787.89 L923.6 788.37 L924.79 788.85 L925.98 789.33 L927.16 789.81 L928.35 790.29 L929.54 790.77 L930.73 791.24 L931.92 791.72 L933.11 792.2 L934.3 792.68 L935.49 793.16 L936.68 793.64 L937.86 794.12 L937.86 679.03 L941.43 675.56 L945 672.02 L948.56 668.42 L952.13 664.76 L955.7 661.04 L959.26 657.26 L962.83 653.42 L966.4 649.52 L969.96 645.56 L973.53 641.53 L977.1 637.45 L980.66 633.3 L984.23 629.1 L987.8 624.83 L991.36 620.5 L994.93 616.11 L998.5 611.66 L1002.06 607.15 L1005.63 602.58 L1009.2 597.95 L1009.2 783.66 L1010.39 784.14 L1011.58 784.62 L1012.76 785.1 L1013.95 785.58 L1015.14 786.06 L1016.33 786.54 L1017.52 787.02 L1018.71 787.5 L1019.9 787.98 L1021.09 788.45 L1022.28 788.93 L1023.46 789.41 L1024.65 789.89 L1025.84 790.37 L1027.03 790.85 L1028.22 791.33 L1029.41 791.81 L1030.6 792.29 L1031.79 792.77 L1032.98 793.25 L1032.98 559.59 L1036.54 554.01 L1040.11 548.58 L1043.68 543.3 L1047.24 538.16 L1050.81 533.17 L1054.38 528.33 L1057.94 523.63 L1061.51 519.08 L1065.08 514.67 L1068.64 510.41 L1072.21 506.3 L1075.78 502.34 L1079.34 498.52 L1082.91 494.85 L1086.48 491.32 L1090.04 487.94 L1093.61 484.71 L1097.18 481.62 L1100.74 478.68 L1104.31 475.89" fill="none" stroke="#e2545c" stroke-width="1.8" stroke-linejoin="round" stroke-linecap="round" />
<rect x="81.75" y="871.3" width="472.55" height="353.5" fill="none" stroke="#505050" stroke-width="2.2"/>
<path d="M81.75 1224.8 V1232.3 M199.89 1224.8 V1232.3 M318.02 1224.8 V1232.3 M436.16 1224.8 V1232.3 M554.3 1224.8 V1232.3" stroke="#505050" stroke-width="1.6" fill="none"/>
<path d="M140.82 1224.8 V1229.3 M258.96 1224.8 V1229.3 M377.09 1224.8 V1229.3 M495.23 1224.8 V1229.3" stroke="#505050" stroke-width="1.6" fill="none"/>
<path d="M81.75 1224.8 H74.25 M81.75 1146.22 H74.25 M81.75 1067.65 H74.25 M81.75 989.07 H74.25 M81.75 910.5 H74.25" stroke="#505050" stroke-width="1.6" fill="none"/>
<path d="M81.75 1185.51 H77.25 M81.75 1106.94 H77.25 M81.75 1028.36 H77.25 M81.75 949.79 H77.25" stroke="#505050" stroke-width="1.6" fill="none"/>
<text x="81.75" y="1252" font-family='"Liberation Sans", sans-serif' font-size="19" font-weight="normal" font-style="normal" fill="#222222" text-anchor="middle"  stroke="#222222" stroke-width="0.49">0</text>
<text x="199.89" y="1252" font-family='"Liberation Sans", sans-serif' font-size="19" font-weight="normal" font-style="normal" fill="#222222" text-anchor="middle"  stroke="#222222" stroke-width="0.49">1000</text>
<text x="318.02" y="1252" font-family='"Liberation Sans", sans-serif' font-size="19" font-weight="normal" font-style="normal" fill="#222222" text-anchor="middle"  stroke="#222222" stroke-width="0.49">2000</text>
<text x="436.16" y="1252" font-family='"Liberation Sans", sans-serif' font-size="19" font-weight="normal" font-style="normal" fill="#222222" text-anchor="middle"  stroke="#222222" stroke-width="0.49">3000</text>
<text x="554.3" y="1252" font-family='"Liberation Sans", sans-serif' font-size="19" font-weight="normal" font-style="normal" fill="#222222" text-anchor="middle"  stroke="#222222" stroke-width="0.49">4000</text>
<text x="70" y="1231.2" font-family='"Liberation Sans", sans-serif' font-size="19" font-weight="normal" font-style="normal" fill="#222222" text-anchor="end"  stroke="#222222" stroke-width="0.49">0.00</text>
<text x="70" y="1152.62" font-family='"Liberation Sans", sans-serif' font-size="19" font-weight="normal" font-style="normal" fill="#222222" text-anchor="end"  stroke="#222222" stroke-width="0.49">0.02</text>
<text x="70" y="1074.05" font-family='"Liberation Sans", sans-serif' font-size="19" font-weight="normal" font-style="normal" fill="#222222" text-anchor="end"  stroke="#222222" stroke-width="0.49">0.04</text>
<text x="70" y="995.47" font-family='"Liberation Sans", sans-serif' font-size="19" font-weight="normal" font-style="normal" fill="#222222" text-anchor="end"  stroke="#222222" stroke-width="0.49">0.06</text>
<text x="70" y="916.9" font-family='"Liberation Sans", sans-serif' font-size="19" font-weight="normal" font-style="normal" fill="#222222" text-anchor="end"  stroke="#222222" stroke-width="0.49">0.08</text>
<text x="298" y="1272.5" font-family='"Liberation Sans", sans-serif' font-size="18.7" font-weight="normal" font-style="normal" fill="#222222" text-anchor="middle"  stroke="#222222" stroke-width="0.49">Time (s)</text>
<text x="0" y="0" font-family='"Liberation Sans", sans-serif' font-size="19" font-weight="normal" font-style="normal" fill="#222222" text-anchor="middle" transform="translate(19.5 1038) rotate(-90)"  stroke="#222222" stroke-width="0.49">Current density (mA/cm<tspan dy="-7" font-size="12">2</tspan><tspan dy="7">)</tspan></text>
<text x="0" y="0" font-family='"Liberation Serif", serif' font-size="32" font-weight="bold" font-style="normal" fill="#111" text-anchor="end" transform="translate(542.5 905.5) scale(1.05 1)" >(e)</text>
<path d="M375.7 905.7 H415.7" stroke="#4a46d6" stroke-width="1.8"/>
<path d="M375.7 928.6 H415.7" stroke="#e2545c" stroke-width="1.8"/>
<text x="421.4" y="913" font-family='"Liberation Sans", sans-serif' font-size="18.5" font-weight="normal" font-style="normal" fill="#222222" text-anchor="start"  stroke="#222222" stroke-width="0.48">UV</text>
<text x="421.4" y="936" font-family='"Liberation Sans", sans-serif' font-size="18.5" font-weight="normal" font-style="normal" fill="#222222" text-anchor="start"  stroke="#222222" stroke-width="0.48">visible light</text>
<text x="220" y="926" font-family='"Liberation Sans", sans-serif' font-size="18.5" font-weight="normal" font-style="normal" fill="#222222" text-anchor="start"  stroke="#222222" stroke-width="0.48">light off</text>
<text x="128.75" y="1156.25" font-family='"Liberation Sans", sans-serif' font-size="18.5" font-weight="normal" font-style="normal" fill="#222222" text-anchor="start"  stroke="#222222" stroke-width="0.48">light on</text>
<path d="M237.5 934.5 L215.7 966.78" stroke="#222" stroke-width="1.4" fill="none"/>
<path d="M211.5 973 L214.58 963.62 L219.05 966.64 Z" fill="#222"/>
<path d="M146.4 1164.8 L121.98 1192.29" stroke="#222" stroke-width="1.4" fill="none"/>
<path d="M117 1197.9 L121.29 1189 L125.33 1192.59 Z" fill="#222"/>
<path d="M82.9 1193.6 L83.37 1193.51 L84.04 1193.41 L84.82 1193.24 L85.64 1192.96 L86.4 1192.5 L87.08 1191.69 L87.75 1190.56 L88.43 1189.38 L89.16 1188.4 L90 1187.9 L90.98 1188.06 L92.07 1188.71 L93.21 1189.56 L94.34 1190.32 L95.4 1190.7 L96.39 1190.6 L97.35 1190.21 L98.27 1189.68 L99.16 1189.19 L100 1188.9 L100.79 1188.8 L101.52 1188.79 L102.22 1188.86 L102.9 1189.03 L103.6 1189.3 L104.31 1189.76 L105.02 1190.42 L105.72 1191.12 L106.41 1191.73 L107.1 1192.1 L107.83 1192.17 L108.59 1192.04 L109.33 1191.8 L109.95 1191.55 L110.4 1191.4 L110.7 998 L111.8 1075.7 L111.8 1075.7 L113.04 1071.75 L114.78 1066.28 L116.83 1059.75 L119 1052.64 L121.1 1045.4 L123.21 1037.5 L125.45 1028.62 L127.71 1019.59 L129.87 1011.21 L131.8 1004.3 L133.43 999.18 L134.85 995.3 L136.16 992.19 L137.47 989.38 L138.9 986.4 L140.52 983.11 L142.25 979.84 L143.98 976.77 L145.6 974.12 L147 972.1 L148.04 970.97 L148.81 970.61 L149.49 970.59 L150.28 970.53 L151.4 970 L152.86 969 L154.54 967.81 L156.39 966.43 L158.36 964.88 L160.4 963.2 L162.65 961.11 L165.16 958.6 L167.69 956.07 L170.04 953.9 L172 952.5 L173.42 951.95 L174.44 951.98 L175.28 952.47 L176.16 953.29 L177.3 954.3 L178.71 955.54 L180.26 957.09 L181.9 958.91 L183.63 960.96 L185.4 963.2 L187.36 965.91 L189.53 969.12 L191.7 972.41 L193.66 975.34 L195.2 977.5 L196.14 978.69 L196.62 979.19 L196.91 979.3 L197.28 979.3 L198 979.5 L199.24 979.92 L200.83 980.36 L202.5 980.78 L203.98 981.14 L205 981.4 L205.9 1195 L205.9 1195 L206.28 1195.31 L206.74 1195.76 L207.33 1196.28 L208.04 1196.8 L208.93 1197.23 L210 1197.5 L211.21 1197.67 L212.53 1197.8 L214.01 1197.84 L215.71 1197.76 L217.69 1197.49 L220 1197 L222.8 1196.21 L226.08 1195.15 L229.64 1193.91 L233.28 1192.57 L236.8 1191.24 L240 1190 L243.05 1188.75 L246.15 1187.41 L249.12 1186.06 L251.82 1184.81 L254.09 1183.76 L255.75 1183 L257.7 996.8 L259.1 1022.1 L271 1007 L274.3 1005.7 L294.3 1010 L322 1003.5 L350 1000 L350.9 1001 L351.5 1185 L351.5 1185 L351.74 1186.02 L352.01 1187.44 L352.36 1189.11 L352.83 1190.91 L353.47 1192.68 L354.3 1194.3 L355.33 1195.89 L356.53 1197.59 L357.89 1199.28 L359.41 1200.81 L361.08 1202.06 L362.9 1202.9 L364.75 1203.3 L366.62 1203.36 L368.64 1203.13 L370.95 1202.69 L373.69 1202.09 L377 1201.4 L381.38 1200.46 L386.81 1199.19 L392.68 1197.76 L398.35 1196.35 L403.2 1195.14 L406.6 1194.3 L408.6 1194 L408.9 1035.7 L408.9 1035.7 L409.2 1035.81 L409.49 1036.01 L409.89 1036.23 L410.53 1036.36 L411.52 1036.31 L413 1036 L414.94 1035.39 L417.23 1034.54 L419.88 1033.52 L422.89 1032.38 L426.27 1031.19 L430 1030 L434.2 1028.76 L438.88 1027.42 L443.92 1026.02 L449.2 1024.61 L454.6 1023.26 L460 1022 L465.86 1020.78 L472.39 1019.54 L479.02 1018.35 L485.25 1017.27 L490.52 1016.37 L494.3 1015.7 L494.8 1190.9 L522.9 1191.4" fill="none" stroke="#4a46d6" stroke-width="2.0" stroke-linejoin="round" stroke-linecap="round" />
<path d="M82.5 1195 L83.29 1195.88 L84.35 1197.11 L85.62 1198.56 L87.04 1200.11 L88.52 1201.63 L90 1203 L91.52 1204.25 L93.13 1205.48 L94.81 1206.69 L96.54 1207.85 L98.28 1208.96 L100 1210 L101.84 1211.01 L103.85 1212 L105.88 1212.94 L107.76 1213.78 L109.35 1214.48 L110.5 1215 L110.9 1100 L111.25 1128.6 L111.25 1128.6 L111.77 1127.33 L112.49 1125.58 L113.34 1123.51 L114.27 1121.25 L115.21 1118.97 L116.1 1116.8 L116.94 1114.71 L117.79 1112.58 L118.65 1110.41 L119.53 1108.23 L120.44 1106.06 L121.4 1103.9 L122.4 1101.72 L123.44 1099.51 L124.51 1097.3 L125.61 1095.13 L126.74 1093.05 L127.9 1091.1 L129.02 1089.28 L130.09 1087.57 L131.19 1085.95 L132.39 1084.39 L133.77 1082.88 L135.4 1081.4 L137.33 1079.89 L139.52 1078.35 L141.88 1076.86 L144.35 1075.49 L146.85 1074.31 L149.3 1073.4 L151.72 1072.79 L154.18 1072.42 L156.66 1072.25 L159.18 1072.21 L161.72 1072.25 L164.3 1072.3 L166.85 1072.4 L169.35 1072.59 L171.88 1072.86 L174.52 1073.19 L177.33 1073.54 L180.4 1073.9 L184.04 1074.32 L188.26 1074.82 L192.66 1075.35 L196.83 1075.86 L200.38 1076.29 L202.9 1076.6 L203.5 1211 L230 1212 L255.5 1213 L255.9 1113.9 L256.6 1134.3 L256.6 1134.3 L257.03 1133.38 L257.61 1132.11 L258.31 1130.6 L259.09 1128.96 L259.89 1127.29 L260.7 1125.7 L261.5 1124.17 L262.33 1122.61 L263.19 1121.03 L264.1 1119.42 L265.06 1117.78 L266.1 1116.1 L267.18 1114.4 L268.29 1112.68 L269.45 1110.92 L270.7 1109.13 L272.08 1107.29 L273.6 1105.4 L275.31 1103.35 L277.18 1101.13 L279.17 1098.86 L281.23 1096.67 L283.33 1094.68 L285.4 1093 L287.47 1091.67 L289.59 1090.59 L291.73 1089.71 L293.89 1088.97 L296.05 1088.32 L298.2 1087.7 L300.33 1087.13 L302.46 1086.66 L304.58 1086.27 L306.72 1085.96 L308.89 1085.7 L311.1 1085.5 L313.33 1085.36 L315.58 1085.31 L317.85 1085.31 L320.17 1085.36 L322.54 1085.43 L325 1085.5 L327.59 1085.59 L330.33 1085.71 L333.12 1085.85 L335.9 1086 L338.58 1086.16 L341.1 1086.3 L343.57 1086.44 L346.09 1086.6 L348.51 1086.75 L350.7 1086.89 L352.55 1087.01 L353.9 1087.1 L354.3 1207.1 L405.5 1208 L405.9 1115.4 L406.6 1132.5 L406.6 1132.5 L407.39 1131.19 L408.49 1129.36 L409.78 1127.2 L411.18 1124.91 L412.59 1122.68 L413.9 1120.7 L415.1 1118.96 L416.27 1117.3 L417.44 1115.7 L418.66 1114.14 L419.96 1112.62 L421.4 1111.1 L422.97 1109.57 L424.65 1108.04 L426.41 1106.54 L428.25 1105.09 L430.15 1103.74 L432.1 1102.5 L434.05 1101.37 L436 1100.32 L438.01 1099.36 L440.14 1098.5 L442.45 1097.74 L445 1097.1 L447.88 1096.59 L451.08 1096.2 L454.45 1095.92 L457.87 1095.73 L461.19 1095.6 L464.3 1095.5 L467.19 1095.47 L469.99 1095.54 L472.69 1095.67 L475.31 1095.83 L477.88 1095.98 L480.4 1096.1 L483 1096.19 L485.71 1096.29 L488.36 1096.39 L490.78 1096.47 L492.81 1096.55 L494.3 1096.6 L494.6 1199.4 L522.9 1200.6" fill="none" stroke="#e2545c" stroke-width="1.9" stroke-linejoin="round" stroke-linecap="round" />
<rect x="634.25" y="872" width="476.15" height="352.3" fill="none" stroke="#505050" stroke-width="2.2"/>
<path d="M673.93 1224.3 V1231.8 M753.29 1224.3 V1231.8 M832.65 1224.3 V1231.8 M912.01 1224.3 V1231.8 M991.37 1224.3 V1231.8 M1070.73 1224.3 V1231.8" stroke="#505050" stroke-width="1.6" fill="none"/>
<path d="M634.25 1224.3 V1228.8 M713.61 1224.3 V1228.8 M792.97 1224.3 V1228.8 M872.33 1224.3 V1228.8 M951.69 1224.3 V1228.8 M1031.05 1224.3 V1228.8 M1110.41 1224.3 V1228.8" stroke="#505050" stroke-width="1.6" fill="none"/>
<path d="M634.25 1224.1 H626.75 M634.25 1165.4 H626.75 M634.25 1106.7 H626.75 M634.25 1048 H626.75 M634.25 989.3 H626.75 M634.25 930.6 H626.75 M634.25 871.9 H626.75" stroke="#505050" stroke-width="1.6" fill="none"/>
<path d="M634.25 1194.75 H629.75 M634.25 1136.05 H629.75 M634.25 1077.35 H629.75 M634.25 1018.65 H629.75 M634.25 959.95 H629.75 M634.25 901.25 H629.75" stroke="#505050" stroke-width="1.6" fill="none"/>
<text x="673.93" y="1251" font-family='"Liberation Sans", sans-serif' font-size="19" font-weight="normal" font-style="normal" fill="#222222" text-anchor="middle"  stroke="#222222" stroke-width="0.49">450</text>
<text x="753.29" y="1251" font-family='"Liberation Sans", sans-serif' font-size="19" font-weight="normal" font-style="normal" fill="#222222" text-anchor="middle"  stroke="#222222" stroke-width="0.49">500</text>
<text x="832.65" y="1251" font-family='"Liberation Sans", sans-serif' font-size="19" font-weight="normal" font-style="normal" fill="#222222" text-anchor="middle"  stroke="#222222" stroke-width="0.49">550</text>
<text x="912.01" y="1251" font-family='"Liberation Sans", sans-serif' font-size="19" font-weight="normal" font-style="normal" fill="#222222" text-anchor="middle"  stroke="#222222" stroke-width="0.49">600</text>
<text x="991.37" y="1251" font-family='"Liberation Sans", sans-serif' font-size="19" font-weight="normal" font-style="normal" fill="#222222" text-anchor="middle"  stroke="#222222" stroke-width="0.49">650</text>
<text x="1070.73" y="1251" font-family='"Liberation Sans", sans-serif' font-size="19" font-weight="normal" font-style="normal" fill="#222222" text-anchor="middle"  stroke="#222222" stroke-width="0.49">700</text>
<text x="622.5" y="1230.5" font-family='"Liberation Sans", sans-serif' font-size="19" font-weight="normal" font-style="normal" fill="#222222" text-anchor="end"  stroke="#222222" stroke-width="0.49">0.0</text>
<text x="622.5" y="1171.8" font-family='"Liberation Sans", sans-serif' font-size="19" font-weight="normal" font-style="normal" fill="#222222" text-anchor="end"  stroke="#222222" stroke-width="0.49">0.5</text>
<text x="622.5" y="1113.1" font-family='"Liberation Sans", sans-serif' font-size="19" font-weight="normal" font-style="normal" fill="#222222" text-anchor="end"  stroke="#222222" stroke-width="0.49">1.0</text>
<text x="622.5" y="1054.4" font-family='"Liberation Sans", sans-serif' font-size="19" font-weight="normal" font-style="normal" fill="#222222" text-anchor="end"  stroke="#222222" stroke-width="0.49">1.5</text>
<text x="622.5" y="995.7" font-family='"Liberation Sans", sans-serif' font-size="19" font-weight="normal" font-style="normal" fill="#222222" text-anchor="end"  stroke="#222222" stroke-width="0.49">2.0</text>
<text x="622.5" y="937" font-family='"Liberation Sans", sans-serif' font-size="19" font-weight="normal" font-style="normal" fill="#222222" text-anchor="end"  stroke="#222222" stroke-width="0.49">2.5</text>
<text x="622.5" y="878.3" font-family='"Liberation Sans", sans-serif' font-size="19" font-weight="normal" font-style="normal" fill="#222222" text-anchor="end"  stroke="#222222" stroke-width="0.49">3.0</text>
<text x="865.5" y="1275" font-family='"Liberation Sans", sans-serif' font-size="18.7" font-weight="normal" font-style="normal" fill="#222222" text-anchor="middle"  stroke="#222222" stroke-width="0.49">Wavelength (nm)</text>
<text x="0" y="0" font-family='"Liberation Sans", sans-serif' font-size="18.4" font-weight="normal" font-style="normal" fill="#222222" text-anchor="middle" transform="translate(587.5 1056) rotate(-90)"  stroke="#222222" stroke-width="0.48">IPCE (%)</text>
<text x="0" y="0" font-family='"Liberation Serif", serif' font-size="32" font-weight="bold" font-style="normal" fill="#111" text-anchor="start" transform="translate(646 906) scale(1.05 1)" >(f)</text>
<path d="M638.89 1057.14h6.6v6.6h-6.6z M646.82 1059.14h6.6v6.6h-6.6z M654.76 1063.48h6.6v6.6h-6.6z M662.69 1069.35h6.6v6.6h-6.6z M670.63 1076.75h6.6v6.6h-6.6z M678.57 1080.27h6.6v6.6h-6.6z M686.5 1083.68h6.6v6.6h-6.6z M694.44 1095.53h6.6v6.6h-6.6z M702.37 1107.27h6.6v6.6h-6.6z M710.31 1128.05h6.6v6.6h-6.6z M718.25 1137.8h6.6v6.6h-6.6z M726.18 1140.26h6.6v6.6h-6.6z M734.12 1142.38h6.6v6.6h-6.6z M742.05 1151.89h6.6v6.6h-6.6z M749.99 1161.16h6.6v6.6h-6.6z M757.93 1160.34h6.6v6.6h-6.6z M765.86 1154.35h6.6v6.6h-6.6z M773.8 1155.29h6.6v6.6h-6.6z M781.73 1149.77h6.6v6.6h-6.6z M789.67 1137.33h6.6v6.6h-6.6z M797.61 1128.52h6.6v6.6h-6.6z M805.54 1122.3h6.6v6.6h-6.6z M813.48 1111.03h6.6v6.6h-6.6z M821.41 1096.36h6.6v6.6h-6.6z M829.35 1086.96h6.6v6.6h-6.6z M837.29 1084.62h6.6v6.6h-6.6z M845.22 1086.96h6.6v6.6h-6.6z M853.16 1084.26h6.6v6.6h-6.6z M861.09 1079.1h6.6v6.6h-6.6z M869.03 1051.74h6.6v6.6h-6.6z M876.97 1037.66h6.6v6.6h-6.6z M884.9 1009.71h6.6v6.6h-6.6z M892.84 996.57h6.6v6.6h-6.6z M900.77 983.42h6.6v6.6h-6.6z M908.71 970.62h6.6v6.6h-6.6z M916.65 953.13h6.6v6.6h-6.6z M924.58 936.34h6.6v6.6h-6.6z M932.52 916.73h6.6v6.6h-6.6z M940.45 912.04h6.6v6.6h-6.6z M948.39 901.24h6.6v6.6h-6.6z M956.33 900.3h6.6v6.6h-6.6z M964.26 901.24h6.6v6.6h-6.6z M972.2 904.52h6.6v6.6h-6.6z M980.13 912.04h6.6v6.6h-6.6z M988.07 922.6h6.6v6.6h-6.6z M996.01 933.17h6.6v6.6h-6.6z M1003.94 940.68h6.6v6.6h-6.6z M1011.88 958.06h6.6v6.6h-6.6z M1019.81 979.19h6.6v6.6h-6.6z M1027.75 984.36h6.6v6.6h-6.6z M1035.69 990.93h6.6v6.6h-6.6z M1043.62 1015.35h6.6v6.6h-6.6z M1051.56 1037.66h6.6v6.6h-6.6z M1059.49 1058.08h6.6v6.6h-6.6z M1067.43 1062.54h6.6v6.6h-6.6z M1075.37 1075.46h6.6v6.6h-6.6z M1083.3 1102.81h6.6v6.6h-6.6z M1091.24 1105.04h6.6v6.6h-6.6z M1099.17 1121.48h6.6v6.6h-6.6z" fill="none" stroke="#1a1a1a" stroke-width="1.6"/>
</g>
</svg>
</body></html>
